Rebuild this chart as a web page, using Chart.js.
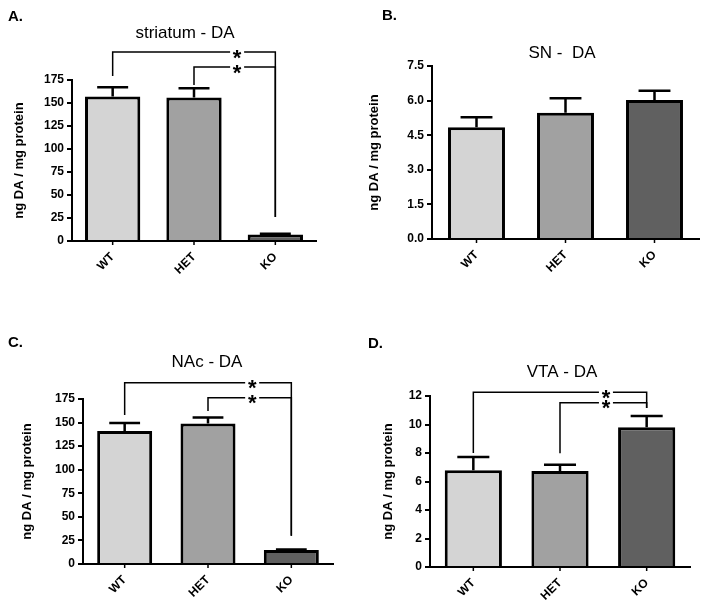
<!DOCTYPE html>
<html>
<head>
<meta charset="utf-8">
<script src="https://cdn.jsdelivr.net/npm/chart.js@4.4.1/dist/chart.umd.min.js"></script>
<style>
  body { margin: 0; background: #fff; }
  #wrap { position: relative; width: 704px; height: 609px; }
  canvas { position: absolute; }
</style>
</head>
<body>
<div id="wrap">
  <canvas id="cA" width="352" height="300" style="left:0;top:0"></canvas>
  <canvas id="cB" width="352" height="300" style="left:352px;top:0"></canvas>
  <canvas id="cC" width="352" height="309" style="left:0;top:300px"></canvas>
  <canvas id="cD" width="352" height="309" style="left:352px;top:300px"></canvas>
</div>
<script>
// genotypes
var genotypes = ['WT', 'HET', 'KO'];

// DA levels (mean) and SEM, per region
var striatumDA = [157, 156, 7];
var striatumSEM = [10, 10, 1];
var snDA = [4.85, 5.47, 6.03];
var snSEM = [0.43, 0.63, 0.40];
var naccDA = [141, 149, 14.8];
var naccSEM = [8.5, 6.5, 0.7];
var vtaDA = [6.79, 6.74, 9.8];
var vtaSEM = [0.93, 0.44, 0.8];

// y axis ticks
var ticks175 = { max: 175, step: 25 };
var ticks75 = { max: 7.5, step: 1.5 };
var ticks12 = { max: 12, step: 2 };

var barColours = ['#d4d4d4', '#a1a1a1', '#606060'];

Chart.defaults.font.family = "'Liberation Sans', Arial, sans-serif";
Chart.defaults.color = '#000';

// draws error bars, significance brackets, title and panel letter
var makeDecor = function(p) {
  return {
    id: 'decor',
    afterDatasetsDraw: function(chart) {
      var ctx = chart.ctx;
      var xs = chart.scales.x, ys = chart.scales.y;
      var vals = chart.data.datasets[0].data;
      ctx.save();
      ctx.strokeStyle = '#000';
      ctx.lineWidth = 2.5;
      chart.getDatasetMeta(0).data.forEach(function(bar, i) {
        var top = ys.getPixelForValue(vals[i] + p.err[i]);
        var half = bar.width * 0.28;
        ctx.beginPath();
        ctx.moveTo(bar.x, bar.y);
        ctx.lineTo(bar.x, top);
        ctx.moveTo(bar.x - half, top);
        ctx.lineTo(bar.x + half, top);
        ctx.stroke();
      });

      // small x ticks under each bar
      ctx.lineWidth = 1.5;
      chart.getDatasetMeta(0).data.forEach(function(bar) {
        ctx.beginPath();
        ctx.moveTo(bar.x, xs.top);
        ctx.lineTo(bar.x, xs.top + 4);
        ctx.stroke();
      });

      // brackets
      ctx.font = "bold 22px 'Liberation Sans', Arial, sans-serif";
      ctx.textAlign = 'center';
      ctx.textBaseline = 'alphabetic';
      var catW = xs.width / genotypes.length;
      p.brackets.forEach(function(b) {
        var x1 = xs.getPixelForValue(b.from), x2 = xs.getPixelForValue(b.to);
        var yl = ys.getPixelForValue(b.level);
        ctx.strokeStyle = '#000';
        ctx.beginPath();
        ctx.moveTo(x1, ys.getPixelForValue(b.fromEnd));
        ctx.lineTo(x1, yl);
        ctx.lineTo(x2, yl);
        ctx.lineTo(x2, ys.getPixelForValue(b.toEnd));
        ctx.stroke();
        var sx = x2 - 0.47 * catW;
        ctx.fillStyle = '#fff';
        ctx.fillRect(sx - 7, yl - 2.5, 14, 5);
        ctx.fillStyle = '#000';
        ctx.fillText('*', sx, yl + 12.5);
      });

      // title + letter
      ctx.fillStyle = '#000';
      ctx.textBaseline = 'middle';
      ctx.font = "17px 'Liberation Sans', Arial, sans-serif";
      ctx.fillText(p.title, p.titlePos[0], p.titlePos[1]);
      ctx.textAlign = 'left';
      ctx.font = "bold 15px 'Liberation Sans', Arial, sans-serif";
      ctx.fillText(p.letter, p.letterPos[0], p.letterPos[1]);
      ctx.restore();
    }
  };
};

var makePanel = function(id, values, p) {
  var canvas = document.getElementById(id);
  var W = canvas.width, H = canvas.height;
  var area = p.area; // left, right, top, bottom
  var xH = 40;
  return new Chart(canvas.getContext('2d'), {
    type: 'bar',
    data: {
      labels: genotypes,
      datasets: [{
        data: values,
        backgroundColor: barColours,
        borderColor: '#000',
        borderWidth: 3,
        borderSkipped: 'bottom',
        barPercentage: p.barPct,
        categoryPercentage: 1
      }]
    },
    options: {
      responsive: false,
      animation: false,
      layout: {
        padding: { left: 0, right: W - area[1], top: area[2], bottom: H - area[3] - xH }
      },
      plugins: { legend: { display: false }, tooltip: { enabled: false } },
      scales: {
        x: {
          grid: { display: false },
          border: { display: true, color: '#000', width: 2 },
          ticks: {
            maxRotation: 45, minRotation: 45, padding: 1,
            font: { size: 12, weight: 'bold' }, color: '#000'
          },
          afterFit: function(s) { s.height = xH; }
        },
        y: {
          min: 0, max: p.ticks.max,
          grid: { drawOnChartArea: false, color: '#000', lineWidth: 2, tickLength: 5 },
          border: { display: true, color: '#000', width: 2 },
          ticks: {
            stepSize: p.ticks.step, padding: 3,
            font: { size: 12, weight: 'bold' }, color: '#000',
            callback: function(v) { return p.decimals ? v.toFixed(1) : v; }
          },
          title: {
            display: true, text: 'ng DA / mg protein', color: '#000',
            font: { size: 13, weight: 'bold' },
            padding: { top: p.yTitlePad, bottom: 0 }
          },
          afterFit: function(s) { s.width = area[0]; }
        }
      }
    },
    plugins: [makeDecor(p)]
  });
};

makePanel('cA', striatumDA, {
  area: [72, 316, 80, 241], barPct: 0.68, ticks: ticks175, yTitlePad: 12,
  err: striatumSEM, title: 'striatum - DA', titlePos: [185, 33], letter: 'A.', letterPos: [8, 17],
  brackets: [
    { from: 0, to: 2, level: 205.4, fromEnd: 179.3, toEnd: 26.1 },
    { from: 1, to: 2, level: 189.1, fromEnd: 169.6, toEnd: 26.1 }
  ]
});

makePanel('cB', snDA, {
  area: [80, 347, 66, 239], barPct: 0.64, ticks: ticks75, yTitlePad: 15, decimals: true,
  err: snSEM, title: 'SN -  DA', titlePos: [210, 53], letter: 'B.', letterPos: [30, 16],
  brackets: []
});

makePanel('cC', naccDA, {
  area: [83, 333, 99, 264], barPct: 0.66, ticks: ticks175, yTitlePad: 20,
  err: naccSEM, title: 'NAc - DA', titlePos: [207, 62], letter: 'C.', letterPos: [8, 43],
  brackets: [
    { from: 0, to: 2, level: 192.3, fromEnd: 158, toEnd: 30 },
    { from: 1, to: 2, level: 176.4, fromEnd: 162.2, toEnd: 30 }
  ]
});

makePanel('cD', vtaDA, {
  area: [78, 338, 96, 267], barPct: 0.66, ticks: ticks12, yTitlePad: 29,
  err: vtaSEM, title: 'VTA - DA', titlePos: [210, 72], letter: 'D.', letterPos: [16, 44],
  brackets: [
    { from: 0, to: 2, level: 12.26, fromEnd: 8.0, toEnd: 11.16 },
    { from: 1, to: 2, level: 11.53, fromEnd: 7.98, toEnd: 11.16 }
  ]
});
</script>
</body>
</html>
